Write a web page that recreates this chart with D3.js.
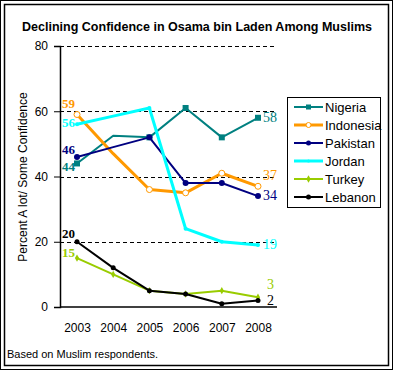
<!DOCTYPE html>
<html>
<head>
<meta charset="utf-8">
<script src="https://cdn.jsdelivr.net/npm/d3@7"></script>
<style>
body { margin: 0; background: #fff; }
svg { display: block; font-family: "Liberation Sans", Arial, sans-serif; }
</style>
</head>
<body>
<svg id="chart" width="393" height="370"></svg>
<script>
// data
const years = [2003, 2004, 2005, 2006, 2007, 2008];
const countries = ["Nigeria", "Indonesia", "Pakistan", "Jordan", "Turkey", "Lebanon"];
const nigeria = [44, 52.5, 52, 61, 52, 58];
const indonesia = [59, 47, 36, 35, 41, 37];
const pakistan = [46, 49, 52, 38, 38, 34];
const jordan = [56, 58.5, 61, 24, 20, 19];
const turkey = [15, 10, 5, 4, 5, 3];
const lebanon = [20, 12, 5, 4, 1, 2];
const yTicks = [0, 20, 40, 60, 80];
const colors = ["#008080", "#ff9900", "#000080", "#00ffff", "#99cc00", "#000000"];

const seriesValues = [nigeria, indonesia, pakistan, jordan, turkey, lebanon];
const series = countries.map((c, i) => ({
  name: c,
  color: colors[i],
  values: seriesValues[i].map((v, j) => ({ year: years[j], value: v }))
}));

// per-series look
const lineWidth = { Nigeria: 2, Indonesia: 3, Pakistan: 2, Jordan: 3, Turkey: 2, Lebanon: 2 };
const labelDy = { Nigeria: 4, Indonesia: -6, Pakistan: 4, Jordan: 4, Turkey: -8, Lebanon: 5 };
const leftDy = { Nigeria: 8, Indonesia: -6.5, Pakistan: -3, Jordan: 3, Turkey: -1, Lebanon: -4 };

const svg = d3.select("#chart");

// double frame
svg.append("rect").attr("x", 0.5).attr("y", 0.5).attr("width", 392).attr("height", 369)
  .attr("fill", "none").attr("stroke", "#000");
svg.append("rect").attr("x", 4.5).attr("y", 4.5).attr("width", 384).attr("height", 361)
  .attr("fill", "none").attr("stroke", "#000").attr("stroke-width", 1.5);

const x = d3.scaleLinear().domain([2003, 2008]).range([77, 258]);
const y = d3.scaleLinear().domain([0, 80]).range([307, 46]);

// title
svg.append("text")
  .attr("x", 197).attr("y", 31)
  .attr("text-anchor", "middle")
  .style("font-size", "13px")
  .style("font-weight", "bold")
  .attr("textLength", 350)
  .attr("lengthAdjust", "spacingAndGlyphs")
  .text("Declining Confidence in Osama bin Laden Among Muslims");

// gridlines
svg.append("g").selectAll("line")
  .data(yTicks.filter(d => d > 0))
  .join("line")
  .attr("x1", 60).attr("x2", 277)
  .attr("y1", d => Math.round(y(d)) + 0.5).attr("y2", d => Math.round(y(d)) + 0.5)
  .attr("stroke", "#000")
  .attr("stroke-dasharray", "4,3");

// y axis
const yAxis = d3.axisLeft(y).tickValues(yTicks).tickSize(6).tickPadding(6);
const gy = svg.append("g").attr("transform", "translate(60,0)").call(yAxis);
gy.select(".domain").attr("stroke-width", 1.5);
gy.selectAll("text").style("font-size", "12px").style("font-family", "Liberation Sans, Arial, sans-serif");

// x axis
const xAxis = d3.axisBottom(x).tickValues(years).tickFormat(d3.format("d")).tickSize(0).tickPadding(16);
const gx = svg.append("g").attr("transform", "translate(0,307)").call(xAxis);
gx.select(".domain").attr("d", "M60,0H277").attr("stroke-width", 1.5);
gx.selectAll("text").style("font-size", "12px").style("font-family", "Liberation Sans, Arial, sans-serif");

// y axis label
svg.append("text")
  .attr("transform", "rotate(-90)")
  .attr("x", -177).attr("y", 27)
  .attr("text-anchor", "middle")
  .style("font-size", "12px")
  .text("Percent A lot/ Some Confidence");

// lines
const line = d3.line().x(d => x(d.year)).y(d => y(d.value));

const groups = svg.append("g").selectAll("g")
  .data(series)
  .join("g");

groups.append("path")
  .attr("d", d => line(d.values))
  .attr("fill", "none")
  .attr("stroke", d => d.color)
  .attr("stroke-width", d => lineWidth[d.name])
  .attr("stroke-linejoin", "round");

// markers
function drawMarker(sel, name, color, size) {
  if (name === "Nigeria") {
    sel.append("rect").attr("x", -size).attr("y", -size)
      .attr("width", size * 2).attr("height", size * 2).attr("fill", color);
  } else if (name === "Indonesia") {
    sel.append("circle").attr("r", size).attr("fill", "#fff").attr("stroke", color).attr("stroke-width", 1);
  } else if (name === "Turkey") {
    sel.append("path").attr("d", d3.symbol(d3.symbolDiamond, size * size * 2.5)).attr("fill", color);
  } else {
    sel.append("circle").attr("r", size).attr("fill", color);
  }
}

groups.each(function(d) {
  const g = d3.select(this);
  const size = d.name === "Jordan" ? 2 : (d.name === "Turkey" || d.name === "Lebanon" ? 2.5 : 3);
  g.selectAll(".pt")
    .data(d.values.filter(v => v.year !== 2004 || d.name === "Turkey" || d.name === "Lebanon"))
    .join("g")
    .attr("class", "pt")
    .attr("transform", v => `translate(${x(v.year)},${y(v.value)})`)
    .each(function() { drawMarker(d3.select(this), d.name, d.color, size); });
});

// start labels (2003)
groups.append("text")
  .attr("x", x(2003) - 15)
  .attr("y", d => y(d.values[0].value) + leftDy[d.name])
  .style("font-family", "Liberation Serif, Times New Roman, serif")
  .style("font-weight", "bold")
  .style("font-size", "13px")
  .attr("fill", d => d.color)
  .text(d => d.values[0].value);

// end labels (2008)
groups.append("text")
  .attr("x", d => x(2008) + (d.values[5].value < 10 ? 9 : 5))
  .attr("y", d => y(d.values[5].value) + labelDy[d.name])
  .style("font-family", "Liberation Serif, Times New Roman, serif")
  .style("font-size", "14px")
  .attr("fill", d => d.color)
  .text(d => d.values[5].value);

// legend
svg.append("rect")
  .attr("x", 287.5).attr("y", 97.5).attr("width", 93).attr("height", 110)
  .attr("fill", "#fff").attr("stroke", "#000");

const legendItems = svg.append("g").selectAll("g")
  .data(series)
  .join("g")
  .attr("transform", (d, i) => `translate(294,${107 + i * 18})`);

legendItems.append("line")
  .attr("x1", 0).attr("x2", 29)
  .attr("stroke", d => d.color)
  .attr("stroke-width", d => lineWidth[d.name]);

legendItems.each(function(d) {
  const m = d3.select(this).append("g").attr("transform", "translate(14.5,0)");
  drawMarker(m, d.name, d.color, d.name === "Jordan" ? 1.5 : 2.5);
});

legendItems.append("text")
  .attr("x", 31).attr("y", 5)
  .style("font-size", "13px")
  .text(d => d.name);

// footnote
svg.append("text")
  .attr("x", 7).attr("y", 358)
  .style("font-size", "11px")
  .text("Based on Muslim respondents.");
</script>
</body>
</html>
